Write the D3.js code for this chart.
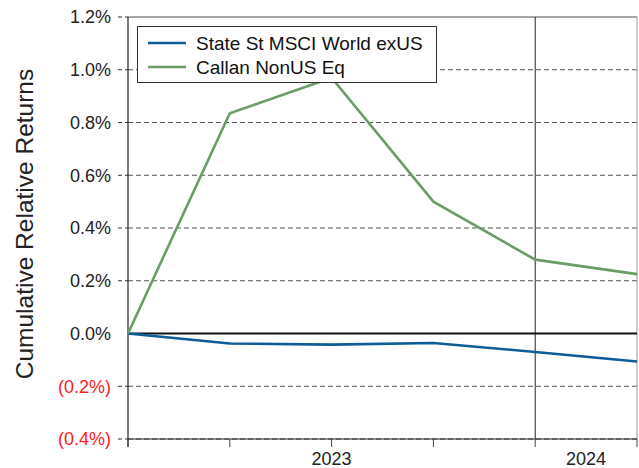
<!DOCTYPE html>
<html><head><meta charset="utf-8">
<script src="https://cdn.jsdelivr.net/npm/d3@7"></script>
<style>body{margin:0;background:#fff}svg{display:block;font-family:Arial,"Liberation Sans",sans-serif}</style>
</head><body>
<svg id="c" width="639" height="468"></svg>
<script>
const periods = [0, 1, 2, 3, 4, 5];
const seriesNames = ["State St MSCI World exUS", "Callan NonUS Eq"];
const stateSt = [0, -0.038, -0.042, -0.036, -0.070, -0.106];
const callan = [0, 0.835, 0.970, 0.500, 0.280, 0.225];
const yTicks = [-0.4, -0.2, 0, 0.2, 0.4, 0.6, 0.8, 1.0, 1.2];
const yearLabels = [{label:"2023", pos:2}, {label:"2024", pos:4.5}];
const yearBoundary = [4];
const colors = ["#0c5d95", "#6a9d66"];

const svg = d3.select("#c");
const L = 128, R = 637, T = 17, B = 439;
const x = d3.scaleLinear().domain([0,5]).range([L,R]);
const y = d3.scaleLinear().domain([-0.4,1.2]).range([B,T]);
const fmt = v => { const s = Math.abs(v).toFixed(1)+"%"; return v < -1e-9 ? "("+s+")" : s; };

yTicks.forEach(v => {
  if (Math.abs(v) < 1e-9) return;
  const top = Math.abs(v-1.2) < 1e-9;
  svg.append("line").attr("x1", L).attr("x2", R).attr("y1", y(v)).attr("y2", y(v))
    .attr("stroke", top ? "#888" : "#555").attr("stroke-width", top ? 1.5 : 1)
    .attr("stroke-dasharray", top ? null : "5,3");
  svg.append("line").attr("x1", L-10).attr("x2", L).attr("y1", y(v)).attr("y2", y(v))
    .attr("stroke", "#333").attr("stroke-dasharray", "4,3");
});
svg.append("line").attr("x1", R).attr("x2", R).attr("y1", T).attr("y2", B).attr("stroke", "#999");
yearBoundary.forEach(p => svg.append("line").attr("x1", x(p)).attr("x2", x(p)).attr("y1", T).attr("y2", B).attr("stroke", "#222"));

yTicks.forEach(v => {
  svg.append("text").attr("x", 111).attr("y", y(v)).attr("dy", "0.36em").attr("text-anchor", "end")
    .attr("font-size", 18).attr("fill", v < -1e-9 ? "#ff1a1a" : "#222").text(fmt(v));
});
svg.append("line").attr("x1", L).attr("x2", L).attr("y1", T).attr("y2", B+8).attr("stroke", "#222").attr("stroke-width", 1.2);
svg.append("line").attr("x1", L).attr("x2", R).attr("y1", B).attr("y2", B).attr("stroke", "#222").attr("stroke-width", 1.2);
periods.forEach(p => svg.append("line").attr("x1", x(p)).attr("x2", x(p)).attr("y1", B).attr("y2", B+8).attr("stroke", "#444"));
yearLabels.forEach(d => svg.append("text").attr("x", x(d.pos)).attr("y", 465).attr("text-anchor", "middle")
  .attr("font-size", 18).attr("fill", "#222").text(d.label));

svg.append("line").attr("x1", L).attr("x2", R).attr("y1", y(0)).attr("y2", y(0)).attr("stroke", "#111").attr("stroke-width", 2);

svg.append("text").attr("transform", `translate(33,224) rotate(-90)`).attr("text-anchor", "middle")
  .attr("font-size", 24.5).attr("fill", "#222").text("Cumulative Relative Returns");

const line = d3.line().x((d,i) => x(periods[i])).y(d => y(d));
[stateSt, callan].forEach((s,i) => svg.append("path").datum(s).attr("d", line).attr("fill", "none")
  .attr("stroke", colors[i]).attr("stroke-width", 2.6));

const lg = svg.append("g");
lg.append("rect").attr("x", 137.5).attr("y", 26.5).attr("width", 299).attr("height", 56).attr("fill", "#fff").attr("stroke", "#333");
seriesNames.forEach((n,i) => {
  const yy = 43 + i*24;
  lg.append("line").attr("x1", 148).attr("x2", 186).attr("y1", yy).attr("y2", yy).attr("stroke", colors[i]).attr("stroke-width", 2.6);
  lg.append("text").attr("x", 196).attr("y", yy).attr("dy", "0.36em").attr("font-size", 19).attr("fill", "#111").text(n);
});
</script>
</body></html>
